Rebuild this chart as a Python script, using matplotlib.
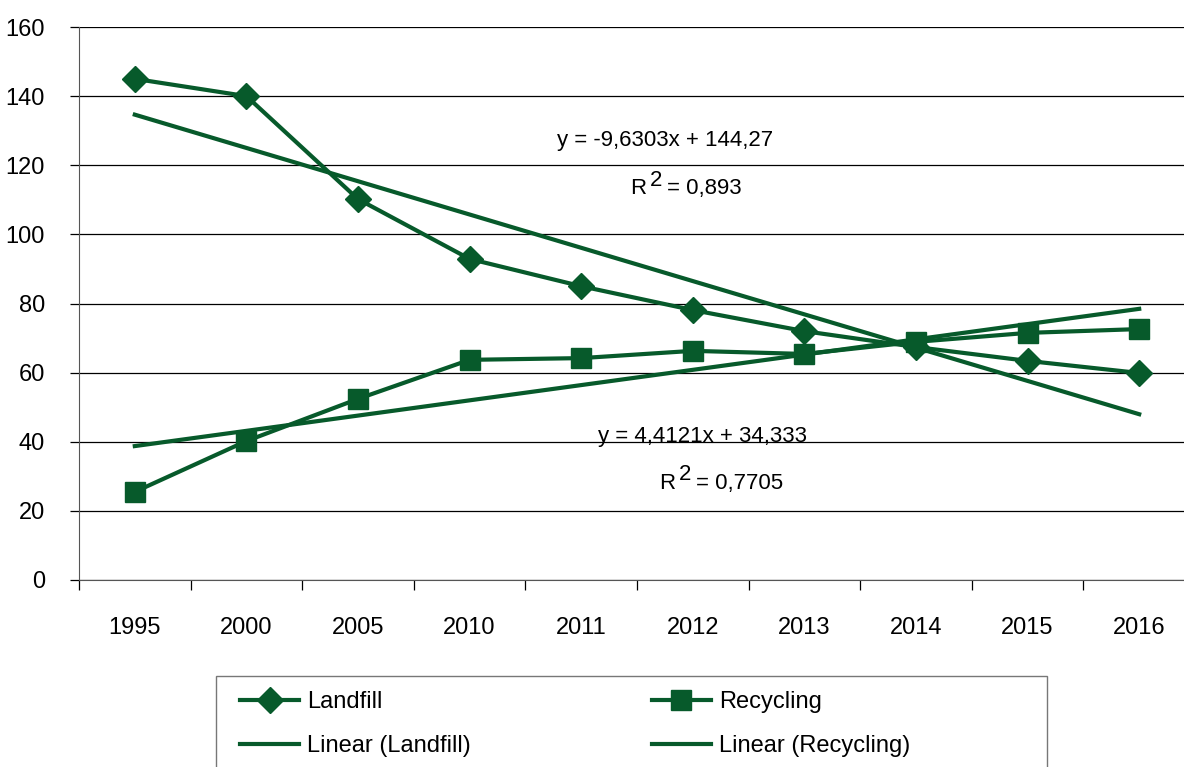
#!/usr/bin/env python3
import matplotlib.pyplot as plt
import numpy as np
from matplotlib.patches import Rectangle
from matplotlib.ticker import FixedLocator

years = ["1995", "2000", "2005", "2010", "2011", "2012", "2013", "2014", "2015", "2016"]
landfill = [145.0, 140.0, 110.2, 92.9, 85.0, 78.1, 72.0, 67.4, 63.4, 59.9]
recycling = [25.5, 40.2, 52.4, 63.7, 64.2, 66.3, 65.4, 68.9, 71.5, 72.6]

# trend coefficients as printed on the chart (x = 1..n)
landfill_fit = (-9.6303, 144.27)
recycling_fit = (4.4121, 34.333)

GREEN = "#075a2b"
FS = 16

plt.rcParams["font.family"] = ["Liberation Sans", "DejaVu Sans"]

W, H = 1184, 767
fig = plt.figure(figsize=(W / 100, H / 100), dpi=100)
ax = fig.add_axes([79 / W, 1 - 580 / H, (1195 - 79) / W, (580 - 27) / H])

x = np.arange(len(years))
xn = x + 1

ax.plot(x, landfill, color=GREEN, lw=3, marker="D", ms=13, label="Landfill", zorder=4)
ax.plot(x, landfill_fit[0] * xn + landfill_fit[1], color=GREEN, lw=3,
        label="Linear (Landfill)", zorder=3)
ax.plot(x, recycling, color=GREEN, lw=3, marker="s", ms=14, label="Recycling", zorder=4)
ax.plot(x, recycling_fit[0] * xn + recycling_fit[1], color=GREEN, lw=3,
        label="Linear (Recycling)", zorder=3)

ax.set_xlim(-0.5, len(years) - 0.5)
ax.set_ylim(0, 160)
ax.set_yticks(np.arange(0, 161, 20))
ax.grid(axis="y", color="black", lw=0.9)
ax.set_axisbelow(True)

ax.set_xticks(x)
ax.set_xticklabels(years)
ax.xaxis.set_minor_locator(FixedLocator(np.arange(-0.5, len(years), 1.0)))
ax.tick_params(axis="x", which="major", length=0, pad=27, labelsize=FS + 1)
ax.tick_params(axis="x", which="minor", length=7, width=0.9, color="black")
ax.tick_params(axis="y", length=6.5, width=0.9, pad=18, labelsize=FS + 1)

for s in ["top", "right"]:
    ax.spines[s].set_visible(False)
ax.spines["left"].set_color("#555555")
ax.spines["bottom"].set_color("#555555")


def r2_label(xd, yd, value):
    # "R", raised "2", then "= value", laid out around the right edge of R
    ax.annotate("R", (xd, yd), ha="right", va="center", fontsize=FS)
    ax.annotate("2", (xd, yd), xytext=(3, 6), textcoords="offset points",
                ha="left", va="center", fontsize=FS)
    ax.annotate("= " + value, (xd, yd), xytext=(15, 0), textcoords="offset points",
                ha="left", va="center", fontsize=FS)


ax.text(4.75, 127.3, "y = -9,6303x + 144,27", ha="center", va="center", fontsize=FS)
r2_label(4.58, 113.2, "0,893")

ax.text(5.09, 41.4, "y = 4,4121x + 34,333", ha="center", va="center", fontsize=FS)
r2_label(4.84, 28.0, "0,7705")

# legend: two columns inside a box that runs off the bottom of the figure
fig.patches.append(Rectangle((216 / W, 1 - 800 / H), (1047 - 216) / W, (800 - 676) / H,
                             transform=fig.transFigure, fill=False,
                             edgecolor="#777777", lw=1.0))
leg = fig.legend(ncol=2, handles=ax.get_lines(), loc="upper left",
                 bbox_to_anchor=(240 / W, 1 - 691 / H), frameon=False,
                 fontsize=FS + 1, handlelength=2.5, handletextpad=0.35,
                 labelspacing=0.95, borderpad=0, borderaxespad=0,
                 columnspacing=7.65)

fig.savefig("out.png", dpi=100)
